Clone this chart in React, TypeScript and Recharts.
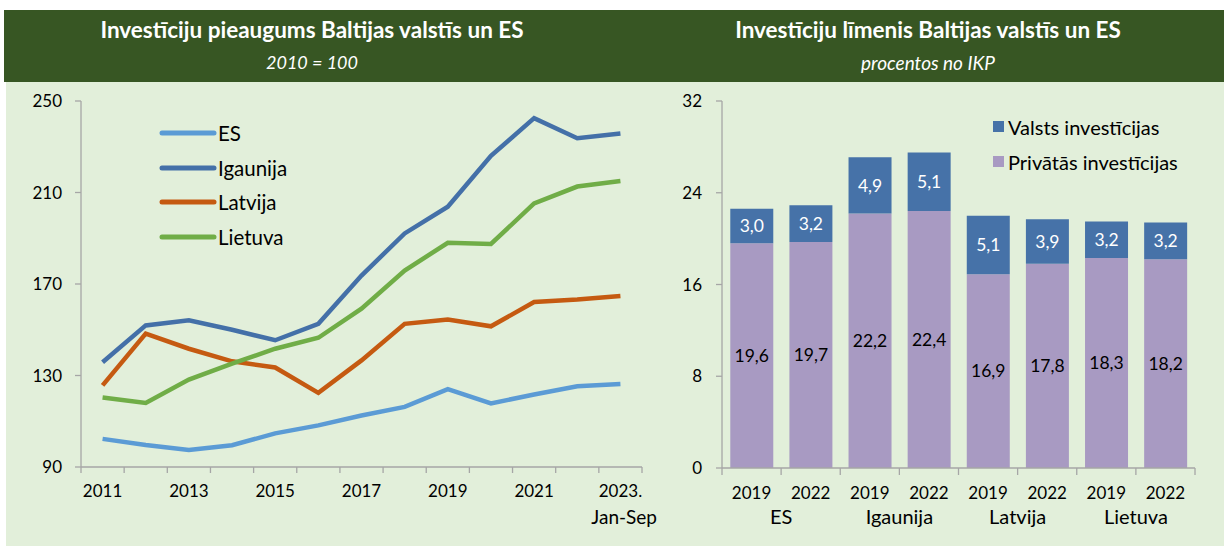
import React from "react"
import {
  LineChart,
  Line,
  BarChart,
  Bar,
  XAxis,
  YAxis,
  Legend,
  LabelList,
} from "recharts"

// left chart: index 2010 = 100
const years = ["2011", "2012", "2013", "2014", "2015", "2016", "2017", "2018", "2019", "2020", "2021", "2022", "2023"]
const yearLabels = ["2011", "", "2013", "", "2015", "", "2017", "", "2019", "", "2021", "", "2023."]
const es = [102.3, 99.6, 97.4, 99.5, 104.7, 108.2, 112.5, 116.3, 124.0, 117.8, 121.7, 125.3, 126.3]
const igaunija = [135.8, 151.9, 154.1, 150.0, 145.4, 152.6, 173.7, 192.1, 203.8, 226.0, 242.5, 233.7, 235.8]
const latvija = [125.7, 148.3, 141.7, 136.2, 133.5, 122.4, 136.6, 152.6, 154.5, 151.5, 162.1, 163.2, 164.8]
const lietuva = [120.4, 118.0, 128.2, 135.2, 141.7, 146.5, 159.2, 175.9, 188.0, 187.5, 205.2, 212.6, 215.0]
const leftTicks = [90, 130, 170, 210, 250]

// right chart: % of GDP
const groups = ["ES", "Igaunija", "Latvija", "Lietuva"]
const periods = ["2019", "2022"]
const privatas = [19.6, 19.7, 22.2, 22.4, 16.9, 17.8, 18.3, 18.2]
const valsts = [3.0, 3.2, 4.9, 5.1, 5.1, 3.9, 3.2, 3.2]
const rightTicks = [0, 8, 16, 24, 32]

const lineData = years.map((y, i) => ({
  year: y,
  ES: es[i],
  Igaunija: igaunija[i],
  Latvija: latvija[i],
  Lietuva: lietuva[i],
}))

const barData = privatas.map((v, i) => ({
  id: groups[Math.floor(i / 2)] + " " + periods[i % 2],
  group: groups[Math.floor(i / 2)],
  year: periods[i % 2],
  privatas: v,
  valsts: valsts[i],
}))

const BG = "#E2EFDA"
const HEAD = "#375623"
const AXIS = "#A6A6A6"
const FONT = "Lato, 'Open Sans', sans-serif"

const fmt = (v: any) => Number(v).toFixed(1).replace(".", ",")

const LineTick = (props: any) => {
  const { x, y, payload, index } = props
  const off = payload?.offset ?? 21.5
  const last = index === years.length - 1
  const label = yearLabels[index]
  return (
    <g>
      <line x1={x - off} x2={x - off} y1={y} y2={y + 6} stroke={AXIS} strokeWidth={1.3} />
      {last && <line x1={x + off} x2={x + off} y1={y} y2={y + 6} stroke={AXIS} strokeWidth={1.3} />}
      {label && (
        <text x={x} y={y + 23} textAnchor="middle" dominantBaseline="central" fontSize={17} fill="#000">
          {label}
        </text>
      )}
      {last && (
        <text x={x + off + 15} y={y + 49} textAnchor="end" dominantBaseline="central" fontSize={19} fill="#000">
          Jan-Sep
        </text>
      )}
    </g>
  )
}

const BarTick = (props: any) => {
  const { x, y, payload, index } = props
  const off = payload?.offset ?? 29.5
  const last = index === barData.length - 1
  const d = barData[index]
  return (
    <g>
      <line x1={x - off} x2={x - off} y1={y} y2={y + 7} stroke={AXIS} strokeWidth={1.3} />
      {last && <line x1={x + off} x2={x + off} y1={y} y2={y + 7} stroke={AXIS} strokeWidth={1.3} />}
      <text x={x} y={y + 24} textAnchor="middle" dominantBaseline="central" fontSize={17} fill="#000">
        {d ? d.year : ""}
      </text>
      {index % 2 === 0 && d && (
        <text x={x + off} y={y + 48} textAnchor="middle" dominantBaseline="central" fontSize={20} fill="#000">
          {d.group}
        </text>
      )}
    </g>
  )
}

const LineLegend = (props: any) => {
  const { payload } = props
  return (
    <div>
      {(payload || []).map((p: any) => (
        <div key={p.value} style={{ display: "flex", alignItems: "center", height: 34.5 }}>
          <svg width={58} height={10}>
            <line x1={3} x2={55} y1={5} y2={5} stroke={p.color} strokeWidth={5} strokeLinecap="round" />
          </svg>
          <span style={{ fontSize: 20.5, color: "#000", marginLeft: 1 }}>{p.value}</span>
        </div>
      ))}
    </div>
  )
}

const BarLegend = (props: any) => {
  const { payload } = props
  const items = [...(payload || [])].reverse()
  return (
    <div>
      {items.map((p: any) => (
        <div key={p.value} style={{ display: "flex", alignItems: "center", height: 35 }}>
          <span style={{ width: 11, height: 11, background: p.color, display: "inline-block" }} />
          <span style={{ fontSize: 20, color: "#000", marginLeft: 4 }}>{p.value}</span>
        </div>
      ))}
    </div>
  )
}

export default function App() {
  return (
    <div style={{ position: "absolute", left: 0, top: 0, width: 1224, height: 546, fontFamily: FONT, background: "#fff" }}>
      <div style={{ position: "absolute", left: 6, top: 10, width: 1218, height: 536, background: BG }} />
      <div style={{ position: "absolute", left: 4, top: 10, width: 1220, height: 72, background: HEAD }} />
      <div style={{ position: "absolute", left: 0, top: 16, width: 624, textAlign: "center", color: "#fff", fontWeight: 700, fontSize: 22.5 }}>
        Investīciju pieaugums Baltijas valstīs un ES
      </div>
      <div style={{ position: "absolute", left: 0, top: 51, width: 624, textAlign: "center", color: "#fff", fontStyle: "italic", fontSize: 18 }}>
        2010 = 100
      </div>
      <div style={{ position: "absolute", left: 632, top: 16, width: 592, textAlign: "center", color: "#fff", fontWeight: 700, fontSize: 22.5 }}>
        Investīciju līmenis Baltijas valstīs un ES
      </div>
      <div style={{ position: "absolute", left: 632, top: 51, width: 592, textAlign: "center", color: "#fff", fontStyle: "italic", fontSize: 19 }}>
        procentos no IKP
      </div>

      <div style={{ position: "absolute", left: 0, top: 82 }}>
        <LineChart width={660} height={464} data={lineData} margin={{ top: 19, right: 18, bottom: 0, left: 0 }}>
          <XAxis
            dataKey="year"
            scale="band"
            height={79}
            stroke={AXIS}
            strokeWidth={1.3}
            tickLine={false}
            tickSize={0}
            tickMargin={0}
            interval={0}
            tick={<LineTick />}
          />
          <YAxis
            domain={[90, 250]}
            ticks={leftTicks}
            width={81}
            stroke={AXIS}
            strokeWidth={1.3}
            tickSize={6}
            tickMargin={13}
            tick={{ fill: "#000", fontSize: 17 }}
          />
          <Legend
            layout="horizontal"
            verticalAlign="middle"
            align="center"
            content={<LineLegend />}
            wrapperStyle={{ left: 159, top: 34, width: 200, height: 140 }}
          />
          <Line dataKey="ES" stroke="#5B9BD5" strokeWidth={4.5} dot={false} isAnimationActive={false} />
          <Line dataKey="Igaunija" stroke="#4470A8" strokeWidth={4.5} dot={false} isAnimationActive={false} />
          <Line dataKey="Latvija" stroke="#C55A11" strokeWidth={4.5} dot={false} isAnimationActive={false} />
          <Line dataKey="Lietuva" stroke="#70AD47" strokeWidth={4.5} dot={false} isAnimationActive={false} />
        </LineChart>
      </div>

      <div style={{ position: "absolute", left: 660, top: 82 }}>
        <BarChart width={555} height={464} data={barData} barCategoryGap="14%" margin={{ top: 19, right: 20, bottom: 0, left: 0 }}>
          <XAxis
            dataKey="id"
            height={78}
            stroke={AXIS}
            strokeWidth={1.3}
            tickLine={false}
            tickSize={0}
            tickMargin={0}
            interval={0}
            tick={<BarTick />}
          />
          <YAxis
            domain={[0, 32]}
            ticks={rightTicks}
            width={62}
            stroke={AXIS}
            strokeWidth={1.3}
            tickSize={6}
            tickMargin={14}
            tick={{ fill: "#000", fontSize: 17 }}
          />
          <Legend
            layout="horizontal"
            verticalAlign="middle"
            align="center"
            content={<BarLegend />}
            wrapperStyle={{ left: 333, top: 27, width: 220, height: 72 }}
          />
          <Bar dataKey="privatas" name="Privātās investīcijas" stackId="a" fill="#A89AC2" isAnimationActive={false}>
            <LabelList dataKey="privatas" position="center" formatter={fmt} fill="#000" fontSize={17.5} />
          </Bar>
          <Bar dataKey="valsts" name="Valsts investīcijas" stackId="a" fill="#4672A8" isAnimationActive={false}>
            <LabelList dataKey="valsts" position="center" formatter={fmt} fill="#fff" fontSize={17.5} />
          </Bar>
        </BarChart>
      </div>
    </div>
  )
}
